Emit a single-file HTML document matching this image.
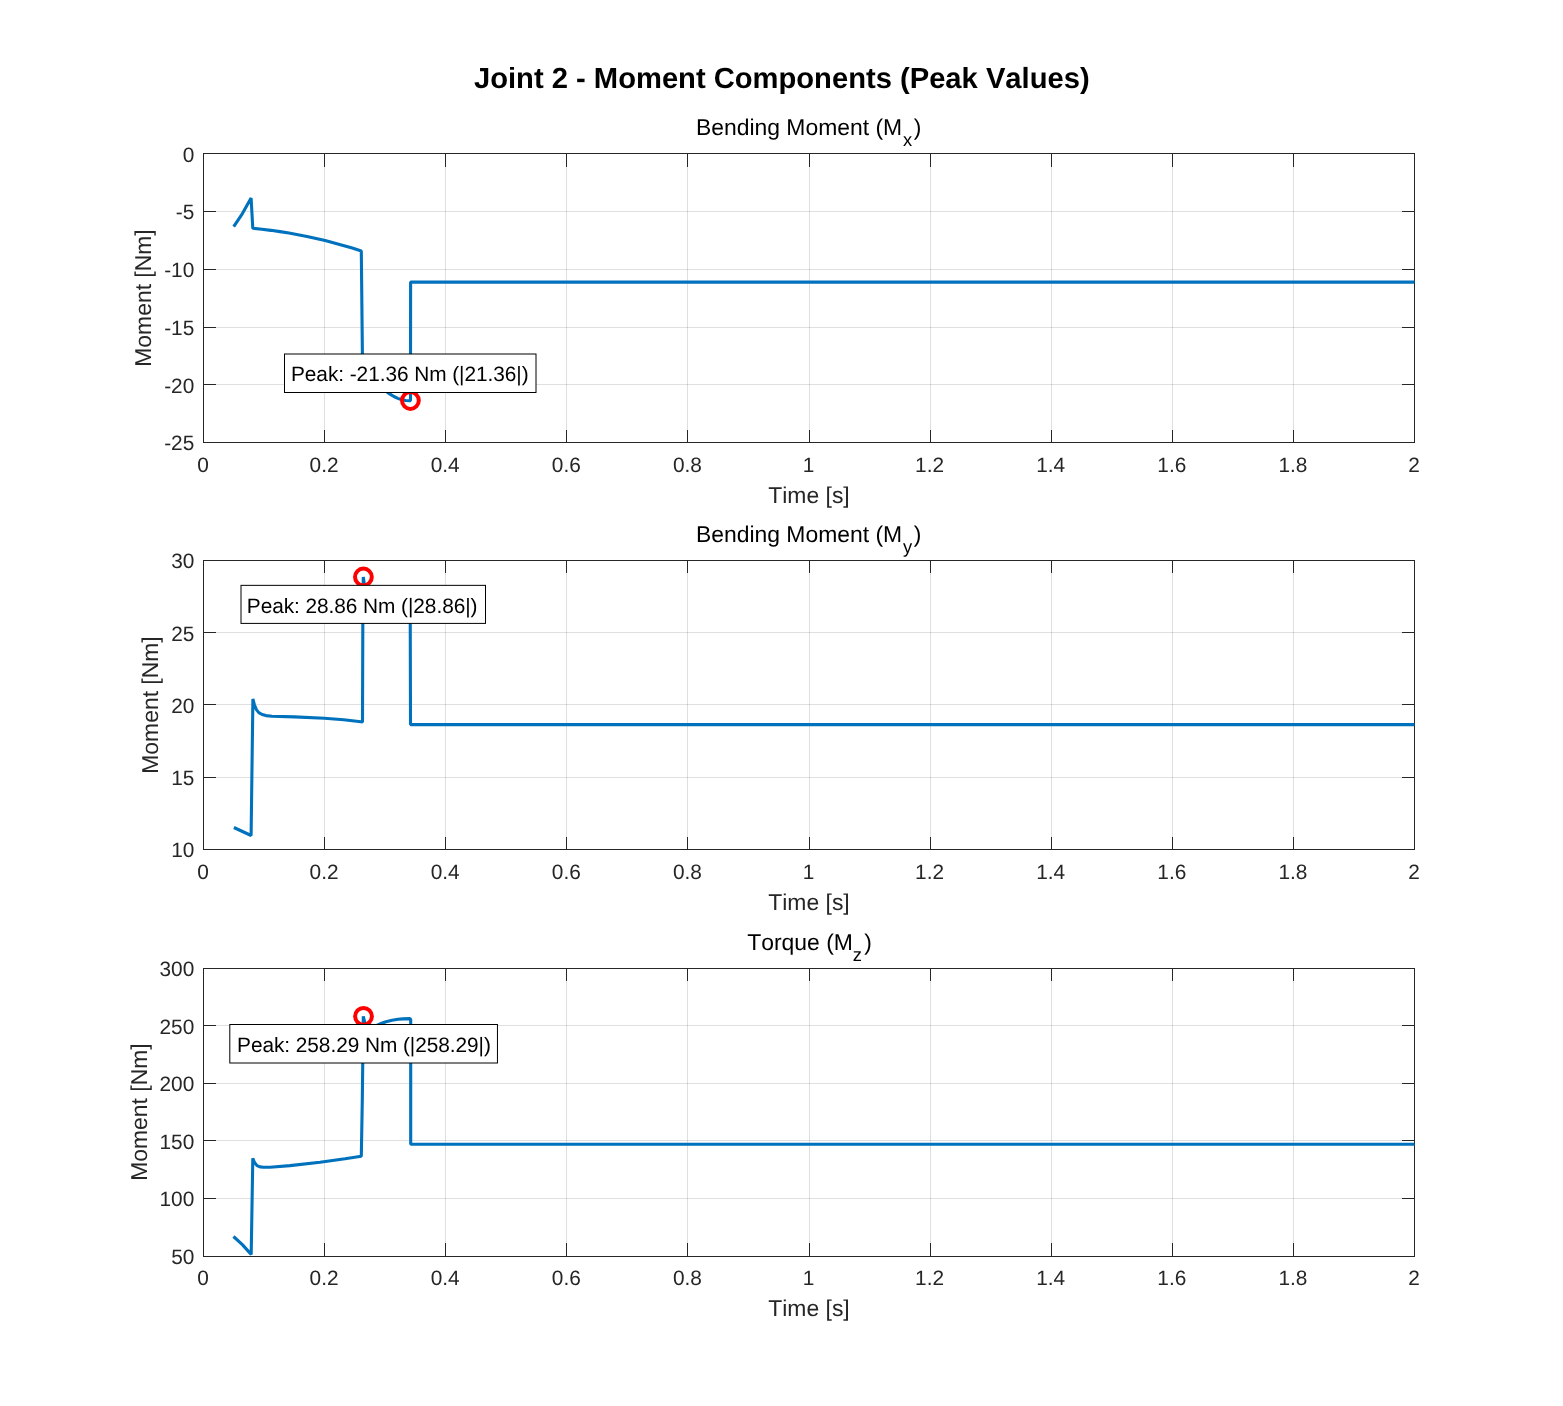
<!DOCTYPE html>
<html lang="en">
<head>
<meta charset="utf-8">
<title>Joint 2 - Moment Components (Peak Values)</title>
<style>
html,body{margin:0;padding:0;background:#fff;}
body{width:1563px;height:1406px;overflow:hidden;}
svg{display:block;}
text{font-family:"Liberation Sans",Arial,Helvetica,sans-serif;font-kerning:none;font-variant-ligatures:none;text-rendering:geometricPrecision;}
.tk{font-size:20.83px;fill:#262626;}
.lb{font-size:22.92px;fill:#262626;}
.tt{font-size:22.92px;fill:#000;}
.sb{font-size:18.33px;}
.sg{font-size:29.17px;font-weight:bold;fill:#000;}
.an{font-size:20.83px;fill:#000;letter-spacing:-0.055px;}
.ax{stroke:#262626;stroke-width:1;fill:none;shape-rendering:crispEdges;}
.gr{stroke:#262626;stroke-opacity:0.15;stroke-width:1;fill:none;shape-rendering:crispEdges;}
.ln{stroke:#0072bd;stroke-width:3.1;fill:none;stroke-linejoin:bevel;stroke-linecap:butt;}
.mk{stroke:#ff0000;stroke-width:4;fill:none;}
.bx{stroke:#000;stroke-width:1;fill:#fff;}
</style>
</head>
<body>
<svg width="1563" height="1406" viewBox="0 0 1563 1406">
<rect x="0" y="0" width="1563" height="1406" fill="#fff"/>
<text class="sg" x="781.8" y="88.3" text-anchor="middle">Joint 2 - Moment Components (Peak Values)</text>
<g id="axes1">
<path class="gr" d="M324.5 153.5V442.5M445.5 153.5V442.5M566.5 153.5V442.5M687.5 153.5V442.5M809.5 153.5V442.5M930.5 153.5V442.5M1051.5 153.5V442.5M1172.5 153.5V442.5M1293.5 153.5V442.5"/>
<path class="gr" d="M203.5 211.5H1414.5M203.5 269.5H1414.5M203.5 327.5H1414.5M203.5 384.5H1414.5"/>
<clipPath id="cp0"><rect x="203.5" y="153.5" width="1211.5" height="289.5"/></clipPath>
<path class="ax" d="M203.5 153.5H1414.5V442.5H203.5ZM324.5 442.5v-12.5M324.5 153.5v13.5M445.5 442.5v-12.5M445.5 153.5v13.5M566.5 442.5v-12.5M566.5 153.5v13.5M687.5 442.5v-12.5M687.5 153.5v13.5M809.5 442.5v-12.5M809.5 153.5v13.5M930.5 442.5v-12.5M930.5 153.5v13.5M1051.5 442.5v-12.5M1051.5 153.5v13.5M1172.5 442.5v-12.5M1172.5 153.5v13.5M1293.5 442.5v-12.5M1293.5 153.5v13.5M203.5 211.5h12.5M1414.5 211.5h-12.5M203.5 269.5h12.5M1414.5 269.5h-12.5M203.5 327.5h12.5M1414.5 327.5h-12.5M203.5 384.5h12.5M1414.5 384.5h-12.5"/>
<polyline class="ln" clip-path="url(#cp0)" points="233.7,226.6 242.4,213.6 251.1,198 252.8,228.3 261.84,229.23 270.88,230.34 279.93,231.61 288.97,233.07 298.01,234.69 307.05,236.49 316.09,238.46 325.13,240.6 334.18,242.91 343.22,245.4 352.26,248.07 361.3,250.9 362.5,363.2 366.43,369.2 370.35,374.66 374.27,379.61 378.2,384.04 382.12,387.94 386.05,391.33 389.98,394.19 393.9,396.53 397.83,398.36 401.75,399.66 405.68,400.44 409.6,400.7 410.5,400.6 410.6,282.1 1414.5,282.1"/>
<circle class="mk" cx="410.4" cy="400.5" r="8.4"/>
<rect class="bx" x="284.5" y="354" width="251.5" height="38.5"/>
<text class="an" x="291" y="380.9">Peak: -21.36 Nm (|21.36|)</text>
<text class="tk" x="203" y="471.85" text-anchor="middle">0</text>
<text class="tk" x="324.1" y="471.85" text-anchor="middle">0.2</text>
<text class="tk" x="445.2" y="471.85" text-anchor="middle">0.4</text>
<text class="tk" x="566.3" y="471.85" text-anchor="middle">0.6</text>
<text class="tk" x="687.4" y="471.85" text-anchor="middle">0.8</text>
<text class="tk" x="808.5" y="471.85" text-anchor="middle">1</text>
<text class="tk" x="929.6" y="471.85" text-anchor="middle">1.2</text>
<text class="tk" x="1050.7" y="471.85" text-anchor="middle">1.4</text>
<text class="tk" x="1171.8" y="471.85" text-anchor="middle">1.6</text>
<text class="tk" x="1292.9" y="471.85" text-anchor="middle">1.8</text>
<text class="tk" x="1414" y="471.85" text-anchor="middle">2</text>
<text class="tk" x="194.3" y="161.7" text-anchor="end">0</text>
<text class="tk" x="194.3" y="219.4" text-anchor="end">-5</text>
<text class="tk" x="194.3" y="277.1" text-anchor="end">-10</text>
<text class="tk" x="194.3" y="334.8" text-anchor="end">-15</text>
<text class="tk" x="194.3" y="392.5" text-anchor="end">-20</text>
<text class="tk" x="194.3" y="450.2" text-anchor="end">-25</text>
<text class="lb" x="809" y="502.6" text-anchor="middle">Time [s]</text>
<text class="lb" transform="translate(151 298) rotate(-90)" text-anchor="middle">Moment [Nm]</text>
<text class="tt" x="695.9" y="134.9">Bending Moment (M<tspan class="sb" dx="0.8" dy="10.8">x</tspan><tspan dx="1.7" dy="-10.8">)</tspan></text>
</g>
<g id="axes2">
<path class="gr" d="M324.5 560.5V849.5M445.5 560.5V849.5M566.5 560.5V849.5M687.5 560.5V849.5M809.5 560.5V849.5M930.5 560.5V849.5M1051.5 560.5V849.5M1172.5 560.5V849.5M1293.5 560.5V849.5"/>
<path class="gr" d="M203.5 632.5H1414.5M203.5 704.5H1414.5M203.5 777.5H1414.5"/>
<clipPath id="cp1"><rect x="203.5" y="560.5" width="1211.5" height="289.5"/></clipPath>
<path class="ax" d="M203.5 560.5H1414.5V849.5H203.5ZM324.5 849.5v-12.5M324.5 560.5v12.5M445.5 849.5v-12.5M445.5 560.5v12.5M566.5 849.5v-12.5M566.5 560.5v12.5M687.5 849.5v-12.5M687.5 560.5v12.5M809.5 849.5v-12.5M809.5 560.5v12.5M930.5 849.5v-12.5M930.5 560.5v12.5M1051.5 849.5v-12.5M1051.5 560.5v12.5M1172.5 849.5v-12.5M1172.5 560.5v12.5M1293.5 849.5v-12.5M1293.5 560.5v12.5M203.5 632.5h12.5M1414.5 632.5h-12.5M203.5 704.5h12.5M1414.5 704.5h-12.5M203.5 777.5h12.5M1414.5 777.5h-12.5"/>
<polyline class="ln" clip-path="url(#cp1)" points="233.9,827.5 251.1,835.5 252.9,699 254.3,704.5 256.4,709.6 258.8,712.6 262.1,714.5 266,715.6 271.9,716.3 294.4,716.9 324.3,718.3 343.7,719.8 360.9,721.8 362.5,722 362.9,600 363.3,577 366.5,600 385,604 410.2,606 410.5,724.6 1414.5,724.6"/>
<circle class="mk" cx="363.4" cy="577" r="8.4"/>
<rect class="bx" x="241" y="585.35" width="244.5" height="38.05"/>
<text class="an" x="246.8" y="612.7">Peak: 28.86 Nm (|28.86|)</text>
<text class="tk" x="203" y="878.85" text-anchor="middle">0</text>
<text class="tk" x="324.1" y="878.85" text-anchor="middle">0.2</text>
<text class="tk" x="445.2" y="878.85" text-anchor="middle">0.4</text>
<text class="tk" x="566.3" y="878.85" text-anchor="middle">0.6</text>
<text class="tk" x="687.4" y="878.85" text-anchor="middle">0.8</text>
<text class="tk" x="808.5" y="878.85" text-anchor="middle">1</text>
<text class="tk" x="929.6" y="878.85" text-anchor="middle">1.2</text>
<text class="tk" x="1050.7" y="878.85" text-anchor="middle">1.4</text>
<text class="tk" x="1171.8" y="878.85" text-anchor="middle">1.6</text>
<text class="tk" x="1292.9" y="878.85" text-anchor="middle">1.8</text>
<text class="tk" x="1414" y="878.85" text-anchor="middle">2</text>
<text class="tk" x="194.3" y="568.4" text-anchor="end">30</text>
<text class="tk" x="194.3" y="640.55" text-anchor="end">25</text>
<text class="tk" x="194.3" y="712.7" text-anchor="end">20</text>
<text class="tk" x="194.3" y="784.85" text-anchor="end">15</text>
<text class="tk" x="194.3" y="857" text-anchor="end">10</text>
<text class="lb" x="809" y="909.65" text-anchor="middle">Time [s]</text>
<text class="lb" transform="translate(157.8 705) rotate(-90)" text-anchor="middle">Moment [Nm]</text>
<text class="tt" x="695.9" y="541.9">Bending Moment (M<tspan class="sb" dx="0.8" dy="10.8">y</tspan><tspan dx="1.7" dy="-10.8">)</tspan></text>
</g>
<g id="axes3">
<path class="gr" d="M324.5 968.5V1256.5M445.5 968.5V1256.5M566.5 968.5V1256.5M687.5 968.5V1256.5M809.5 968.5V1256.5M930.5 968.5V1256.5M1051.5 968.5V1256.5M1172.5 968.5V1256.5M1293.5 968.5V1256.5"/>
<path class="gr" d="M203.5 1025.5H1414.5M203.5 1083.5H1414.5M203.5 1140.5H1414.5M203.5 1198.5H1414.5"/>
<clipPath id="cp2"><rect x="203.5" y="968.5" width="1211.5" height="288.5"/></clipPath>
<path class="ax" d="M203.5 968.5H1414.5V1256.5H203.5ZM324.5 1256.5v-13.5M324.5 968.5v12.5M445.5 1256.5v-13.5M445.5 968.5v12.5M566.5 1256.5v-13.5M566.5 968.5v12.5M687.5 1256.5v-13.5M687.5 968.5v12.5M809.5 1256.5v-13.5M809.5 968.5v12.5M930.5 1256.5v-13.5M930.5 968.5v12.5M1051.5 1256.5v-13.5M1051.5 968.5v12.5M1172.5 1256.5v-13.5M1172.5 968.5v12.5M1293.5 1256.5v-13.5M1293.5 968.5v12.5M203.5 1025.5h12.5M1414.5 1025.5h-12.5M203.5 1083.5h12.5M1414.5 1083.5h-12.5M203.5 1140.5h12.5M1414.5 1140.5h-12.5M203.5 1198.5h12.5M1414.5 1198.5h-12.5"/>
<polyline class="ln" clip-path="url(#cp2)" points="233.5,1236.5 242.35,1244.65 251.2,1254.4 252.8,1158.3 254.5,1162.5 257,1165.6 260,1166.9 263.5,1167.3 270,1167.2 290,1165.6 320,1162.2 345,1158.7 361.3,1156.3 362.3,1100 363.3,1016.3 366.6,1030 371,1027.6 376.8,1025.3 381,1023.5 386,1021.7 392,1020.2 398,1019.3 403,1018.9 409.8,1018.6 410.7,1019.6 410.7,1144.3 1414.5,1144.3"/>
<circle class="mk" cx="363.5" cy="1016.3" r="8.4"/>
<rect class="bx" x="229.8" y="1024.5" width="267.65" height="38.5"/>
<text class="an" x="237.1" y="1052.2">Peak: 258.29 Nm (|258.29|)</text>
<text class="tk" x="203" y="1284.8" text-anchor="middle">0</text>
<text class="tk" x="324.1" y="1284.8" text-anchor="middle">0.2</text>
<text class="tk" x="445.2" y="1284.8" text-anchor="middle">0.4</text>
<text class="tk" x="566.3" y="1284.8" text-anchor="middle">0.6</text>
<text class="tk" x="687.4" y="1284.8" text-anchor="middle">0.8</text>
<text class="tk" x="808.5" y="1284.8" text-anchor="middle">1</text>
<text class="tk" x="929.6" y="1284.8" text-anchor="middle">1.2</text>
<text class="tk" x="1050.7" y="1284.8" text-anchor="middle">1.4</text>
<text class="tk" x="1171.8" y="1284.8" text-anchor="middle">1.6</text>
<text class="tk" x="1292.9" y="1284.8" text-anchor="middle">1.8</text>
<text class="tk" x="1414" y="1284.8" text-anchor="middle">2</text>
<text class="tk" x="194.3" y="975.9" text-anchor="end">300</text>
<text class="tk" x="194.3" y="1033.5" text-anchor="end">250</text>
<text class="tk" x="194.3" y="1091.1" text-anchor="end">200</text>
<text class="tk" x="194.3" y="1148.7" text-anchor="end">150</text>
<text class="tk" x="194.3" y="1206.3" text-anchor="end">100</text>
<text class="tk" x="194.3" y="1263.9" text-anchor="end">50</text>
<text class="lb" x="809" y="1315.7" text-anchor="middle">Time [s]</text>
<text class="lb" transform="translate(147.1 1112.1) rotate(-90)" text-anchor="middle">Moment [Nm]</text>
<text class="tt" x="747.2" y="949.9">Torque (M<tspan class="sb" dx="0" dy="10.8">z</tspan><tspan dx="2.3" dy="-10.8">)</tspan></text>
</g>
</svg>
</body>
</html>
